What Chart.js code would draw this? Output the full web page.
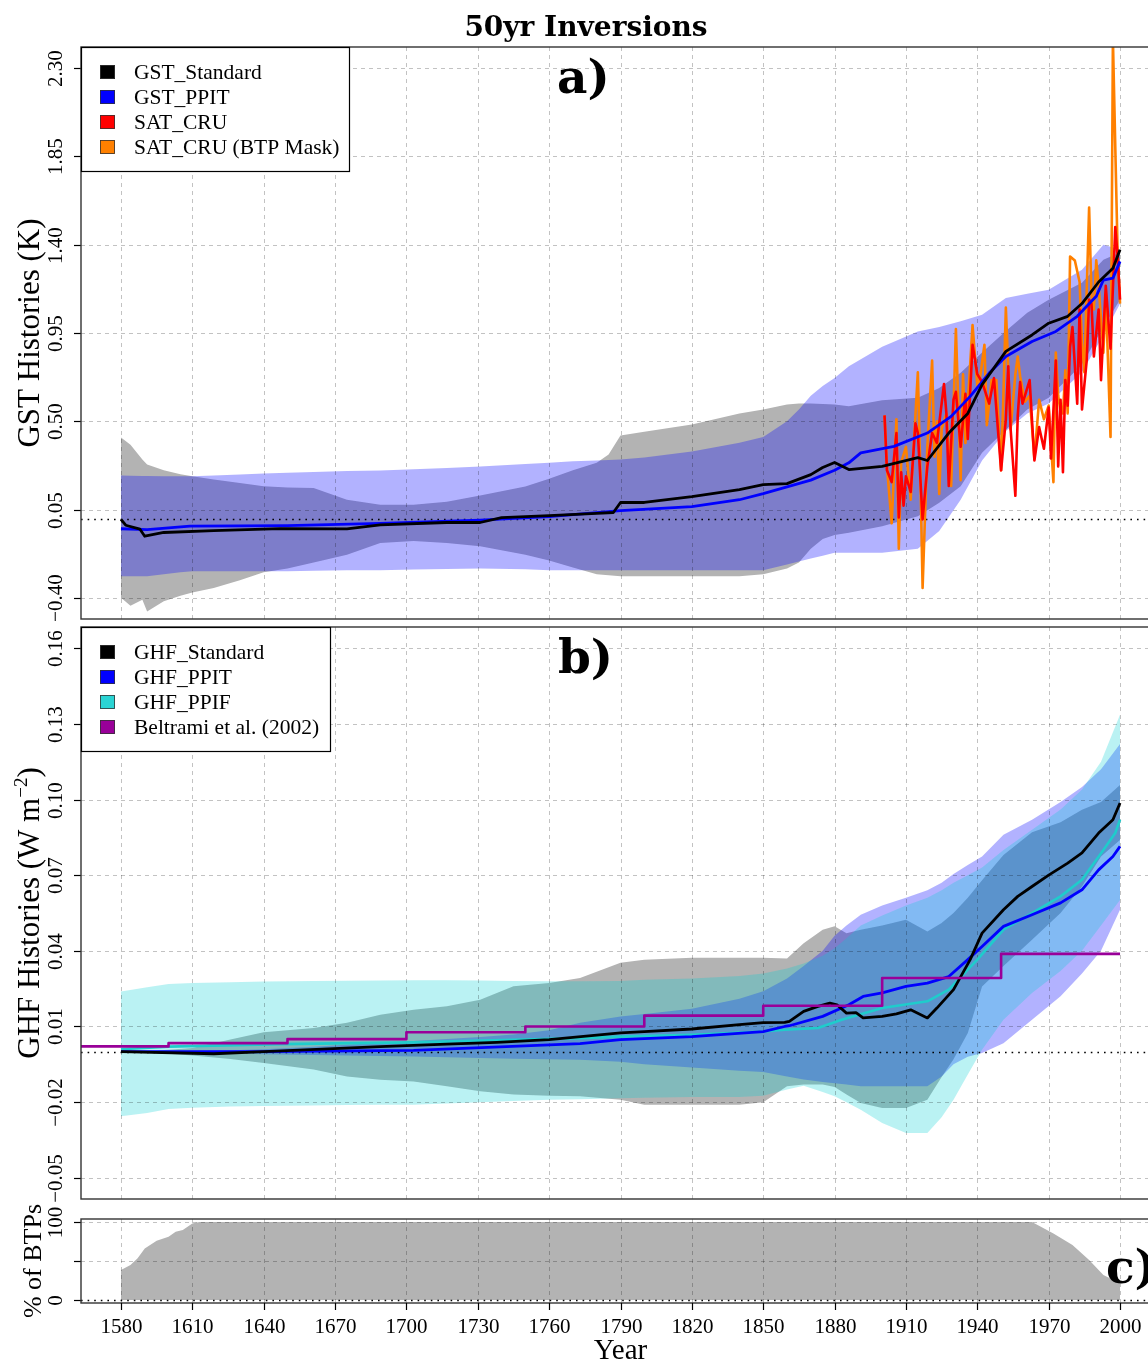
<!DOCTYPE html>
<html>
<head>
<meta charset="utf-8">
<title>50yr Inversions</title>
<script src="https://cdn.jsdelivr.net/npm/chart.js@4.4.1/dist/chart.umd.min.js"></script>
<style>
  html, body { margin: 0; padding: 0; background: #fff; overflow: hidden; }
  #wrap { position: relative; width: 1148px; height: 1363px; overflow: hidden; }
  canvas { position: absolute; left: 0; }
</style>
</head>
<body>
<div id="wrap">
  <canvas id="gst" width="1170" height="621" style="top:0px"></canvas>
  <canvas id="ghf" width="1170" height="585" style="top:621px"></canvas>
  <canvas id="btp" width="1170" height="163" style="top:1200px"></canvas>
</div>
<script>
const serif = '"Liberation Serif", "Times New Roman", serif';
const boldSerif = '"DejaVu Serif", serif';

const yearTicks = [1580, 1610, 1640, 1670, 1700, 1730, 1760, 1790, 1820, 1850, 1880, 1910, 1940, 1970, 2000];

// ---- panel a: GST histories (K) ----
const gstTicks = [-0.40, 0.05, 0.50, 0.95, 1.40, 1.85, 2.30];
const gstTickLabels = ['\u22120.40', '0.05', '0.50', '0.95', '1.40', '1.85', '2.30'];

const gstBandYears = [1580, 1584, 1589, 1591, 1598, 1605, 1610, 1619, 1630, 1640, 1650, 1661, 1675, 1689, 1703, 1717, 1731, 1750, 1760, 1770,
  1780, 1785, 1790, 1800, 1820, 1840, 1850, 1860, 1865, 1870, 1875, 1880, 1886, 1900, 1915, 1924, 1933, 1942, 1952, 1961, 1970, 1984, 1993, 2000];
const gstStdUpper = [0.417, 0.38, 0.305, 0.28, 0.25, 0.23, 0.22, 0.203, 0.185, 0.169, 0.163, 0.16, 0.10, 0.075, 0.075, 0.09, 0.121, 0.167, 0.207, 0.25,
  0.289, 0.33, 0.427, 0.447, 0.483, 0.539, 0.56, 0.585, 0.59, 0.59, 0.588, 0.585, 0.576, 0.607, 0.62, 0.67, 0.747, 0.85, 0.96, 1.053, 1.12, 1.206, 1.324, 1.36];
const gstStdLower = [-0.40, -0.44, -0.41, -0.47, -0.417, -0.39, -0.373, -0.35, -0.31, -0.27, -0.25, -0.22, -0.18, -0.12, -0.111, -0.12, -0.137, -0.18, -0.21, -0.245,
  -0.28, -0.285, -0.29, -0.29, -0.29, -0.29, -0.28, -0.25, -0.22, -0.15, -0.10, -0.08, -0.068, -0.035, 0.016, 0.085, 0.169, 0.34, 0.457, 0.56, 0.62, 0.79, 0.98, 1.12];
const gstPpitUpper = [0.223, 0.222, 0.221, 0.221, 0.22, 0.22, 0.22, 0.224, 0.229, 0.234, 0.238, 0.242, 0.246, 0.249, 0.255, 0.262, 0.27, 0.282, 0.289, 0.296,
  0.30, 0.302, 0.305, 0.315, 0.346, 0.39, 0.42, 0.50, 0.56, 0.63, 0.68, 0.72, 0.78, 0.88, 0.958, 0.98, 1.01, 1.043, 1.128, 1.15, 1.17, 1.273, 1.40, 1.375];
const gstPpitLower = [-0.29, -0.29, -0.29, -0.29, -0.28, -0.27, -0.264, -0.264, -0.264, -0.264, -0.264, -0.262, -0.26, -0.259, -0.256, -0.253, -0.25, -0.255, -0.26, -0.26,
  -0.26, -0.26, -0.26, -0.26, -0.26, -0.26, -0.26, -0.23, -0.215, -0.20, -0.185, -0.17, -0.17, -0.17, -0.15, -0.06, 0.10, 0.30, 0.45, 0.54, 0.59, 0.75, 0.94, 1.10];

const gstStdYears = [1580, 1582, 1588, 1590, 1598, 1619, 1647, 1675, 1689, 1717, 1731, 1740, 1760, 1780, 1787, 1790, 1800, 1820, 1840, 1850,
  1860, 1870, 1875, 1880, 1886, 1900, 1915, 1919, 1928, 1936, 1942, 1952, 1963, 1970, 1978, 1984, 1991, 1997, 2000];
const gstStdValues = [0.0, -0.03, -0.05, -0.086, -0.067, -0.057, -0.047, -0.049, -0.028, -0.016, -0.016, 0.009, 0.019, 0.03, 0.035, 0.086, 0.086, 0.116, 0.152, 0.177,
  0.182, 0.228, 0.264, 0.29, 0.254, 0.27, 0.315, 0.30, 0.44, 0.54, 0.687, 0.856, 0.94, 1.0, 1.035, 1.10, 1.21, 1.28, 1.375];

const gstPpitYears = [1580, 1591, 1609, 1650, 1689, 1731, 1760, 1790, 1820, 1840, 1850, 1870, 1880, 1886, 1891, 1905, 1919, 1929, 1937, 1945,
  1952, 1963, 1973, 1982, 1990, 1993, 1997, 2000];
const gstPpitValues = [-0.048, -0.052, -0.035, -0.032, -0.021, -0.004, 0.014, 0.045, 0.065, 0.10, 0.131, 0.20, 0.25, 0.288, 0.339, 0.372, 0.44, 0.525, 0.627, 0.746,
  0.83, 0.907, 0.958, 1.035, 1.137, 1.22, 1.23, 1.315];

const cruYears = [1901, 1902, 1904, 1906, 1907, 1908, 1909, 1910, 1912, 1914, 1915, 1917, 1919, 1921, 1923, 1926, 1927, 1928, 1930, 1931,
  1933, 1935, 1936, 1938, 1940, 1942, 1945, 1947, 1950, 1952, 1953, 1954, 1956, 1957, 1958, 1959, 1962, 1964, 1966, 1968,
  1970, 1971, 1973, 1974, 1975, 1976, 1977, 1978, 1979, 1980, 1982, 1983, 1984, 1986, 1987, 1988, 1989, 1991, 1992, 1994,
  1996, 1998, 1999, 2000];
const cruValues = [0.53, 0.25, 0.19, 0.44, 0.01, 0.24, 0.07, 0.22, 0.14, 0.49, 0.44, 0.00, 0.27, 0.44, 0.39, 0.69, 0.54, 0.17, 0.61, 0.65,
  0.37, 0.64, 0.41, 0.89, 0.74, 0.70, 0.59, 0.72, 0.25, 0.51, 0.78, 0.46, 0.12, 0.53, 0.70, 0.59, 0.71, 0.30, 0.47, 0.36,
  0.57, 0.31, 0.81, 0.27, 0.61, 0.24, 0.71, 0.58, 0.88, 0.98, 0.59, 1.07, 0.56, 0.81, 1.12, 1.10, 0.83, 1.07, 0.71, 1.19,
  0.87, 1.49, 1.34, 1.12];

const cruMaskYears = [1901, 1902, 1904, 1906, 1907, 1908, 1910, 1912, 1915, 1916, 1917, 1919, 1921, 1922, 1923, 1924, 1925, 1927, 1929, 1931,
  1933, 1934, 1935, 1938, 1940, 1941, 1943, 1944, 1946, 1948, 1950, 1951, 1952, 1954, 1956, 1957, 1958, 1960, 1962, 1964,
  1966, 1968, 1970, 1972, 1973, 1974, 1975, 1976, 1977, 1978, 1979, 1981, 1983, 1984, 1985, 1987, 1988, 1989, 1990, 1991,
  1993, 1994, 1996, 1997, 1999, 2000];
const cruMaskValues = [0.53, 0.27, -0.02, 0.51, -0.15, 0.29, 0.37, 0.10, 0.75, 0.27, -0.35, 0.37, 0.81, 0.32, 0.50, 0.13, 0.46, 0.54, 0.17, 0.97,
  0.20, 0.74, 0.39, 0.99, 0.68, 0.71, 0.89, 0.48, 0.71, 0.71, 0.25, 0.64, 1.08, 0.46, 0.74, 0.83, 0.73, 0.60, 0.63, 0.31,
  0.61, 0.51, 0.58, 0.19, 0.85, 0.63, 0.55, 0.54, 0.76, 0.54, 1.34, 1.32, 1.21, 0.90, 0.75, 1.59, 1.14, 1.07, 1.32, 1.19,
  0.85, 1.15, 0.42, 2.45, 1.35, 1.10];

// ---- panel b: GHF histories (W m-2) ----
const ghfTicks = [-0.05, -0.02, 0.01, 0.04, 0.07, 0.10, 0.13, 0.16];
const ghfTickLabels = ['\u22120.05', '\u22120.02', '0.01', '0.04', '0.07', '0.10', '0.13', '0.16'];

const ghfBandYears = [1580, 1591, 1600, 1610, 1626, 1640, 1661, 1675, 1689, 1703, 1717, 1731, 1745, 1760, 1773, 1790, 1800, 1820, 1840, 1850,
  1860, 1867, 1875, 1880, 1885, 1891, 1900, 1910, 1919, 1925, 1930, 1936, 1942, 1951, 1963, 1975, 1984, 1992, 2000];
const ghfStdUpper = [0.0, 0.0003, 0.0008, 0.0015, 0.0048, 0.0077, 0.0094, 0.0115, 0.0147, 0.0166, 0.018, 0.0206, 0.026, 0.0272, 0.0292, 0.0353, 0.0365, 0.0373, 0.0373, 0.0373,
  0.037, 0.043, 0.0484, 0.0497, 0.047, 0.0484, 0.050, 0.0523, 0.0477, 0.051, 0.055, 0.061, 0.068, 0.078, 0.087, 0.091, 0.0959, 0.099, 0.1058];
const ghfStdLower = [0.0, -0.0003, -0.0008, -0.0015, -0.0029, -0.0045, -0.0071, -0.0098, -0.0111, -0.0118, -0.0137, -0.0157, -0.017, -0.0175, -0.0177, -0.019, -0.021, -0.021, -0.021, -0.020,
  -0.0137, -0.013, -0.013, -0.014, -0.017, -0.0203, -0.0223, -0.0223, -0.019, -0.010, -0.003, 0.0074, 0.0259, 0.034, 0.0444, 0.055, 0.0655, 0.0774, 0.084];
const ghfPpitUpper = [0.0, 0.0, 0.0, 0.0002, 0.0006, 0.001, 0.002, 0.0028, 0.0035, 0.0042, 0.005, 0.0058, 0.0068, 0.0085, 0.0115, 0.014, 0.015, 0.017, 0.021, 0.024,
  0.029, 0.034, 0.040, 0.046, 0.050, 0.0543, 0.058, 0.061, 0.064, 0.067, 0.0705, 0.074, 0.0774, 0.086, 0.092, 0.099, 0.105, 0.112, 0.122];
const ghfPpitLower = [0.0, 0.0, 0.0, -0.0002, -0.0006, -0.001, -0.0013, -0.0015, -0.0017, -0.0019, -0.0022, -0.0025, -0.0028, -0.003, -0.0032, -0.004, -0.005, -0.0063, -0.0075, -0.008,
  -0.0098, -0.011, -0.012, -0.0125, -0.013, -0.0137, -0.0137, -0.0137, -0.0137, -0.0098, -0.005, -0.002, -0.0005, 0.0034, 0.0127, 0.022, 0.031, 0.040, 0.0563];
const ghfPpifUpper = [0.0239, 0.0256, 0.0268, 0.0272, 0.0275, 0.0278, 0.028, 0.0281, 0.0282, 0.0283, 0.0283, 0.0282, 0.028, 0.0279, 0.0279, 0.028, 0.0285, 0.029, 0.030, 0.031,
  0.033, 0.035, 0.038, 0.041, 0.045, 0.050, 0.054, 0.058, 0.061, 0.064, 0.067, 0.070, 0.073, 0.08, 0.088, 0.096, 0.104, 0.115, 0.1336];
const ghfPpifLower = [-0.0256, -0.0243, -0.0227, -0.0222, -0.0217, -0.0215, -0.0213, -0.0211, -0.021, -0.021, -0.0205, -0.02, -0.0195, -0.019, -0.0188, -0.0185, -0.0183, -0.018, -0.018, -0.0175,
  -0.015, -0.0135, -0.016, -0.0177, -0.020, -0.023, -0.0283, -0.0322, -0.0322, -0.026, -0.019, -0.009, 0.0008, 0.0127, 0.0233, 0.032, 0.040, 0.050, 0.0602];

const ghfStdYears = [1580, 1619, 1640, 1689, 1717, 1738, 1760, 1790, 1800, 1820, 1840, 1850, 1859, 1861, 1867, 1873, 1878, 1881, 1885, 1889,
  1892, 1900, 1906, 1912, 1919, 1923, 1930, 1937, 1942, 1951, 1957, 1963, 1970, 1978, 1984, 1991, 1997, 2000];
const ghfStdValues = [0.0, -0.0008, 0.0, 0.002, 0.003, 0.0037, 0.0048, 0.0075, 0.008, 0.009, 0.0107, 0.0115, 0.0116, 0.012, 0.016, 0.018, 0.0193, 0.0186, 0.0153, 0.0155,
  0.0134, 0.014, 0.015, 0.0166, 0.0134, 0.0173, 0.0246, 0.0365, 0.047, 0.0563, 0.0616, 0.0655, 0.070, 0.0748, 0.0788, 0.0867, 0.092, 0.0986];

const ghfPpitYears = [1580, 1640, 1703, 1773, 1790, 1820, 1850, 1859, 1861, 1875, 1886, 1892, 1900, 1910, 1919, 1928, 1936, 1942, 1951, 1963,
  1975, 1984, 1991, 1997, 2000];
const ghfPpitValues = [0.0, 0.0, 0.0005, 0.0032, 0.0048, 0.006, 0.008, 0.010, 0.0103, 0.014, 0.0186, 0.0219, 0.0233, 0.0259, 0.0272, 0.0298, 0.0365, 0.0417, 0.0497, 0.0543,
  0.059, 0.0642, 0.0721, 0.0774, 0.0814];

const ghfPpifYears = [1580, 1600, 1647, 1703, 1773, 1790, 1820, 1850, 1859, 1873, 1883, 1900, 1919, 1928, 1940, 1951, 1963, 1975, 1984, 1993,
  1998, 2000];
const ghfPpifValues = [0.001, 0.002, 0.003, 0.0037, 0.0054, 0.006, 0.0067, 0.008, 0.0087, 0.0094, 0.0127, 0.0173, 0.020, 0.0246, 0.0365, 0.0484, 0.055, 0.0616, 0.0682, 0.080,
  0.0867, 0.092];

const beltramiYears = [1550, 1600, 1650, 1700, 1750, 1800, 1850, 1900, 1950, 2000];
const beltramiValues = [0.0021, 0.0034, 0.005, 0.0077, 0.010, 0.0143, 0.0182, 0.0292, 0.0388, 0.0388];

// ---- panel c: % of BTPs ----
const btpTicks = [0, 50, 100];
const btpTickLabels = ['0', '', '100'];
const btpYears = [1580, 1584, 1587, 1590, 1595, 1600, 1603, 1606, 1610, 1613, 1963, 1972, 1980, 1987, 1993, 2000];
const btpPercent = [38.5, 45, 53.4, 66.2, 76, 81.2, 87.6, 89.7, 98.3, 100, 100, 85.5, 70.5, 51.3, 32, 21.4];

function pairs(xs, ys) { return xs.map((v, i) => ({ x: v, y: ys[i] })); }

function lineSet(xs, ys, color, width, order, extra) {
  return Object.assign({ data: pairs(xs, ys), borderColor: color, borderWidth: width, pointRadius: 0,
    fill: false, order: order, borderJoinStyle: 'round' }, extra || {});
}

function addBand(list, xs, lo, hi, color, order, gridAfter) {
  const lowIndex = list.length;
  list.push({ data: pairs(xs, lo), borderColor: 'rgba(0,0,0,0)', borderWidth: 0, pointRadius: 0, fill: false, order: order + 1 });
  list.push({ data: pairs(xs, hi), borderColor: 'rgba(0,0,0,0)', borderWidth: 0, pointRadius: 0,
    fill: lowIndex, backgroundColor: color, order: order, gridAfter: !!gridAfter });
}

function axes(ymin, ymax, yticks) {
  return {
    x: { type: 'linear', min: 1563.2, max: 2016.8, grid: { display: false }, border: { display: false }, ticks: { display: false },
      afterBuildTicks: s => { s.ticks = yearTicks.map(v => ({ value: v })); }, afterFit: s => { s.height = 0; } },
    y: { type: 'linear', min: ymin, max: ymax, grid: { display: false }, border: { display: false }, ticks: { display: false },
      afterBuildTicks: s => { s.ticks = yticks.map(v => ({ value: v })); }, afterFit: s => { s.width = 0; } }
  };
}

// dashed grid + dotted zero line, drawn just after the shaded bands
function drawGrid(chart) {
  const { ctx, chartArea: a, scales: { x, y } } = chart;
  ctx.save();
  ctx.beginPath(); ctx.rect(a.left, a.top, a.right - a.left, a.bottom - a.top); ctx.clip();
  ctx.strokeStyle = 'rgba(0,0,0,0.24)'; ctx.lineWidth = 1; ctx.setLineDash([4, 4]);
  x.ticks.forEach(t => {
    const px = Math.round(x.getPixelForValue(t.value)) + 0.5;
    ctx.beginPath(); ctx.moveTo(px, a.top); ctx.lineTo(px, a.bottom); ctx.stroke();
  });
  y.ticks.forEach(t => {
    if (t.value === 0) return;
    const py = Math.round(y.getPixelForValue(t.value)) + 0.5;
    ctx.beginPath(); ctx.moveTo(a.left, py); ctx.lineTo(a.right, py); ctx.stroke();
  });
  ctx.strokeStyle = '#000'; ctx.lineWidth = 1.6; ctx.setLineDash([1.6, 5]);
  const p0 = Math.round(y.getPixelForValue(0)) + 0.5;
  ctx.beginPath(); ctx.moveTo(a.left, p0); ctx.lineTo(a.right, p0); ctx.stroke();
  ctx.restore();
}

function rotText(ctx, parts, cx, cy) {
  ctx.save();
  ctx.translate(cx, cy); ctx.rotate(-Math.PI / 2);
  let total = 0;
  parts.forEach(p => { ctx.font = p.size + 'px ' + serif; p.w = ctx.measureText(p.text).width; total += p.w; });
  let xx = -total / 2;
  ctx.textAlign = 'left'; ctx.textBaseline = 'alphabetic';
  parts.forEach(p => { ctx.font = p.size + 'px ' + serif; ctx.fillText(p.text, xx, -(p.rise || 0)); xx += p.w; });
  ctx.restore();
}

function drawLegend(ctx, a, lg) {
  ctx.save();
  ctx.fillStyle = '#fff'; ctx.fillRect(a.left, a.top, lg.w, lg.h);
  ctx.strokeStyle = '#000'; ctx.lineWidth = 1.2;
  ctx.strokeRect(a.left + 0.5, a.top + 0.5, lg.w, lg.h);
  ctx.font = '21.5px ' + serif; ctx.textAlign = 'left'; ctx.textBaseline = 'alphabetic';
  lg.items.forEach((it, i) => {
    const cy = a.top + 25 + i * 25;
    ctx.fillStyle = it[0]; ctx.fillRect(100, cy - 7, 15, 14);
    ctx.strokeStyle = '#333'; ctx.lineWidth = 0.8; ctx.strokeRect(100.5, cy - 6.5, 14, 13);
    ctx.fillStyle = '#000'; ctx.fillText(it[1], 134, cy + 7);
  });
  ctx.restore();
}

function framePlugin(d) {
  return {
    id: 'frame',
    afterDatasetDraw(chart, args) {
      if (chart.data.datasets[args.index].gridAfter) drawGrid(chart);
    },
    afterDraw(chart) {
      const { ctx, chartArea: a, scales: { x, y } } = chart;
      ctx.save();
      ctx.fillStyle = '#000'; ctx.strokeStyle = '#000'; ctx.lineWidth = 1.2;
      y.ticks.forEach((t, i) => {
        const py = Math.round(y.getPixelForValue(t.value)) + 0.5;
        ctx.beginPath(); ctx.moveTo(a.left - 7, py); ctx.lineTo(a.left, py); ctx.stroke();
        if (d.yLabels[i]) rotText(ctx, [{ text: d.yLabels[i], size: 21 }], 62, py);
      });
      rotText(ctx, d.yTitle, d.yTitleX, (a.top + a.bottom) / 2);
      ctx.strokeStyle = '#333'; ctx.lineWidth = 1.4;
      ctx.strokeRect(a.left, a.top, a.right - a.left, a.bottom - a.top);
      if (d.legend) drawLegend(ctx, a, d.legend);
      ctx.fillStyle = '#000'; ctx.textAlign = 'left'; ctx.textBaseline = 'alphabetic';
      ctx.font = 'bold 47px ' + boldSerif;
      ctx.fillText(d.letter[0], d.letter[1], d.letter[2]);
      if (d.title) {
        ctx.font = 'bold 28px ' + boldSerif; ctx.textAlign = 'center';
        ctx.fillText(d.title, 586, 36);
      }
      if (d.xLabels) {
        ctx.strokeStyle = '#000'; ctx.lineWidth = 1.2;
        ctx.font = '21px ' + serif; ctx.textAlign = 'center';
        x.ticks.forEach(t => {
          const px = Math.round(x.getPixelForValue(t.value)) + 0.5;
          ctx.beginPath(); ctx.moveTo(px, a.bottom); ctx.lineTo(px, a.bottom + 7); ctx.stroke();
          ctx.fillText(String(t.value), px, a.bottom + 30);
        });
        ctx.font = '29px ' + serif;
        ctx.fillText('Year', (a.left + a.right) / 2, a.bottom + 56);
      }
      ctx.restore();
    }
  };
}

function makeChart(id, datasets, scales, padding, decor) {
  return new Chart(document.getElementById(id), {
    type: 'line',
    data: { datasets: datasets },
    options: {
      responsive: false, animation: false, devicePixelRatio: 1, events: [],
      layout: { padding: padding },
      scales: scales,
      plugins: { legend: { display: false }, tooltip: { enabled: false }, title: { display: false } }
    },
    plugins: [framePlugin(decor)]
  });
}

// panel a
const gstSets = [];
addBand(gstSets, gstBandYears, gstStdLower, gstStdUpper, '#b3b3b3', 20, false);
addBand(gstSets, gstBandYears, gstPpitLower, gstPpitUpper, 'rgba(0,0,255,0.3)', 17, true);
gstSets.push(lineSet(cruMaskYears, cruMaskValues, '#ff8000', 2.6, 5));
gstSets.push(lineSet(cruYears, cruValues, '#ff0000', 2.6, 4));
gstSets.push(lineSet(gstPpitYears, gstPpitValues, '#0000ff', 2.8, 3));
gstSets.push(lineSet(gstStdYears, gstStdValues, '#000000', 2.8, 2));

makeChart('gst', gstSets, axes(-0.508, 2.408, gstTicks), { left: 81, right: 10, top: 47, bottom: 2 }, {
  yLabels: gstTickLabels,
  yTitle: [{ text: 'GST Histories (K)', size: 31 }], yTitleX: 39,
  legend: { w: 268, h: 124, items: [['#000000', 'GST_Standard'], ['#0000ff', 'GST_PPIT'], ['#ff0000', 'SAT_CRU'], ['#ff8000', 'SAT_CRU (BTP Mask)']] },
  letter: ['a)', 557, 93],
  title: '50yr Inversions'
});

// panel b
const ghfSets = [];
addBand(ghfSets, ghfBandYears, ghfStdLower, ghfStdUpper, '#b3b3b3', 30, false);
addBand(ghfSets, ghfBandYears, ghfPpitLower, ghfPpitUpper, 'rgba(0,0,255,0.3)', 27, false);
addBand(ghfSets, ghfBandYears, ghfPpifLower, ghfPpifUpper, 'rgba(0,206,209,0.27)', 24, true);
ghfSets.push(lineSet(ghfPpifYears, ghfPpifValues, '#1fcccc', 2.6, 5));
ghfSets.push(lineSet(ghfPpitYears, ghfPpitValues, '#0000ff', 2.8, 4));
ghfSets.push(lineSet(ghfStdYears, ghfStdValues, '#000000', 2.8, 3));
ghfSets.push(lineSet(beltramiYears, beltramiValues, '#990099', 2.6, 2, { stepped: 'before' }));

makeChart('ghf', ghfSets, axes(-0.0584, 0.1684, ghfTicks), { left: 81, right: 10, top: 6, bottom: 7 }, {
  yLabels: ghfTickLabels,
  yTitle: [{ text: 'GHF Histories (W m', size: 31 }, { text: '\u22122', size: 19, rise: 12 }, { text: ')', size: 31 }], yTitleX: 39,
  legend: { w: 249, h: 124, items: [['#000000', 'GHF_Standard'], ['#0000ff', 'GHF_PPIT'], ['#2ad4d4', 'GHF_PPIF'], ['#990099', 'Beltrami et al. (2002)']] },
  letter: ['b)', 558, 52]
});

// panel c
const btpSets = [{ data: pairs(btpYears, btpPercent), borderColor: 'rgba(0,0,0,0)', borderWidth: 0, pointRadius: 0,
  fill: 'origin', backgroundColor: '#b3b3b3', order: 2, gridAfter: true }];

makeChart('btp', btpSets, axes(-4, 104, btpTicks), { left: 81, right: 10, top: 19, bottom: 60 }, {
  yLabels: btpTickLabels,
  yTitle: [{ text: '% of BTPs', size: 26 }], yTitleX: 41,
  letter: ['c)', 1106, 83],
  xLabels: true
});
</script>
</body>
</html>
